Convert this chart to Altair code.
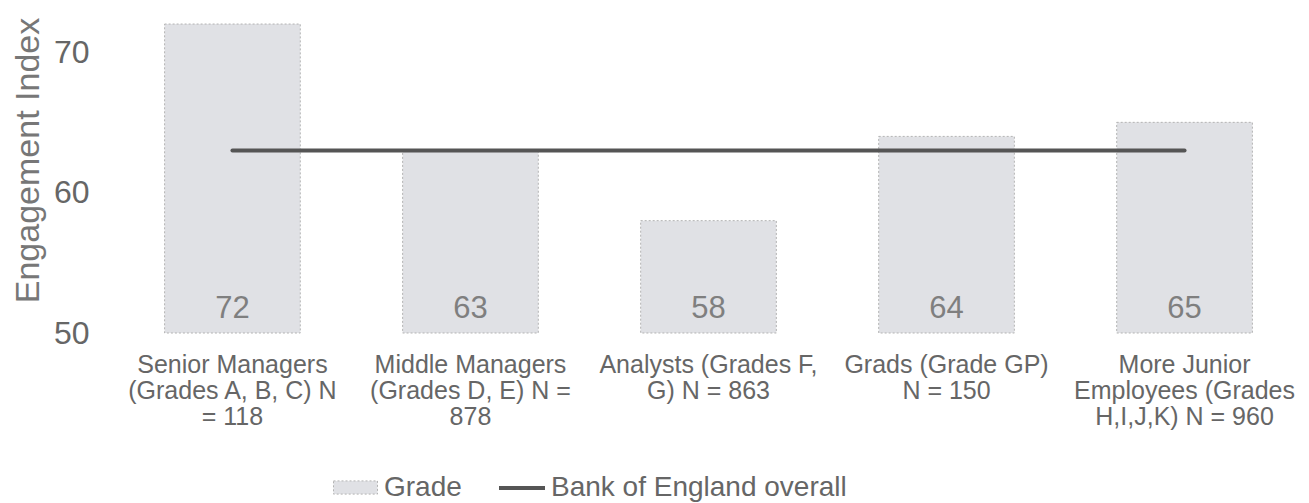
import altair as alt
import pandas as pd

# ---- data ----
categories = [
    "Senior Managers|(Grades A, B, C) N|= 118",
    "Middle Managers|(Grades D, E) N =|878",
    "Analysts (Grades F,|G) N = 863",
    "Grads (Grade GP)|N = 150",
    "More Junior|Employees (Grades|H,I,J,K) N = 960",
]
grade_values = [72, 63, 58, 64, 65]
overall_values = [63, 63, 63, 63, 63]
series_names = ["Grade", "Bank of England overall"]
y_ticks = [50, 60, 70]

df = pd.DataFrame({
    "category": categories,
    "grade": grade_values,
    "overall": overall_values,
    "bar_series": [series_names[0]] * len(categories),
    "line_series": [series_names[1]] * len(categories),
})

FONT = "Liberation Sans"
TEXT = "#666666"
BAR_FILL = "#e0e1e5"
BAR_STROKE = "#b3b3b3"
LINE = "#555555"

x_enc = alt.X(
    "category:N",
    sort=categories,
    scale=alt.Scale(paddingInner=0.43, paddingOuter=0.2),
    axis=alt.Axis(
        title=None,
        labelAngle=0,
        labelExpr="split(datum.label, '|')",
        labelFontSize=25,
        labelLineHeight=26,
        labelColor=TEXT,
        labelPadding=19,
        labelLimit=400,
        ticks=False,
        domain=False,
        grid=False,
    ),
)

y_scale = alt.Scale(domain=[50, 73], nice=False, zero=False)
y_axis = alt.Axis(
    title="Engagement Index",
    values=y_ticks,
    labelFontSize=32,
    labelColor=TEXT,
    labelPadding=28,
    titleFontSize=34,
    titleFontWeight="normal",
    titleColor="#777777",
    titlePadding=8,
    titleY=150,
    ticks=False,
    domain=False,
    grid=False,
)

bars = alt.Chart(df).mark_bar(
    stroke=BAR_STROKE, strokeWidth=1, strokeDash=[2, 2]
).encode(
    x=x_enc,
    y=alt.Y("grade:Q", scale=y_scale, axis=y_axis),
    y2=alt.datum(50),
    fill=alt.Fill(
        "bar_series:N",
        scale=alt.Scale(domain=[series_names[0]], range=[BAR_FILL]),
        legend=alt.Legend(
            title=None,
            orient="none",
            legendX=216,
            legendY=455,
            direction="horizontal",
            labelFontSize=28,
            labelColor=TEXT,
            labelOffset=6,
            labelLimit=500,
            symbolType="M-1,-0.3H1V0.3H-1Z",
            symbolSize=1936,
            symbolStrokeColor=BAR_STROKE,
            symbolStrokeWidth=1,
            symbolDash=[2, 2],
        ),
    ),
)

labels = alt.Chart(df).mark_text(
    baseline="alphabetic", dy=-15, fontSize=31, color="#7f7f7f", font=FONT
).encode(
    x=alt.X("category:N", sort=categories),
    y=alt.datum(50),
    text=alt.Text("grade:Q"),
)

line = alt.Chart(df).mark_line(strokeWidth=4, strokeCap="round").encode(
    x=alt.X("category:N", sort=categories),
    y=alt.Y("overall:Q"),
    stroke=alt.Stroke(
        "line_series:N",
        scale=alt.Scale(domain=[series_names[1]], range=[LINE]),
        legend=alt.Legend(
            title=None,
            orient="none",
            legendX=380,
            legendY=453,
            direction="horizontal",
            labelFontSize=28,
            labelColor=TEXT,
            labelOffset=4,
            labelLimit=500,
            symbolType="stroke",
            symbolSize=2116,
            symbolStrokeWidth=4,
        ),
    ),
)

chart = alt.layer(bars, labels, line).properties(
    width=1183,
    height=323,
    autosize=alt.AutoSizeParams(type="none"),
    padding={"left": 109, "top": 2, "right": 0, "bottom": 178},
).configure(
    font=FONT,
).configure_view(
    stroke=None,
)

chart.save("out.html", embed_options={"renderer": "svg", "actions": False})
